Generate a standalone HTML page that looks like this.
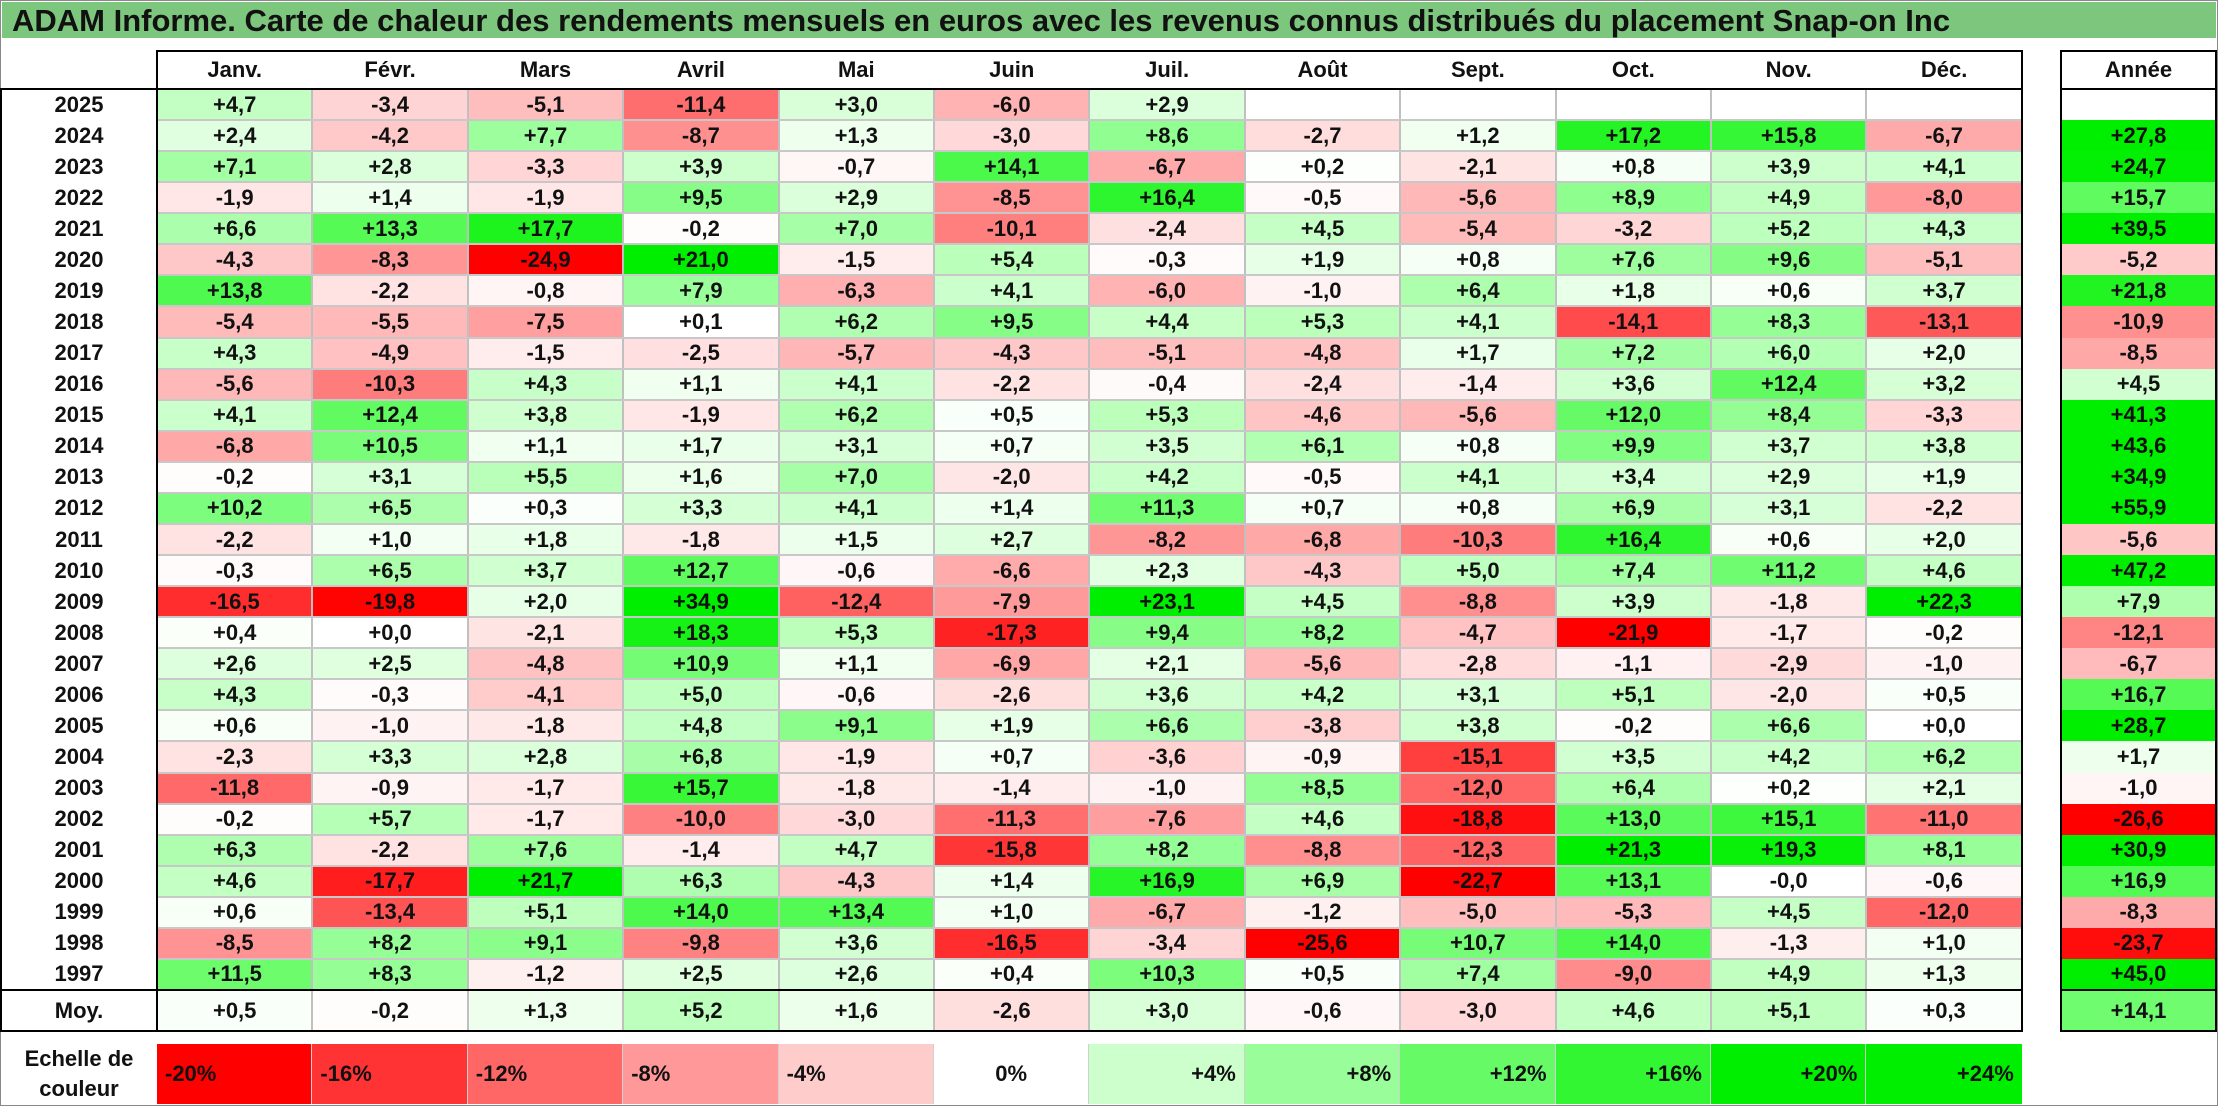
<!DOCTYPE html>
<html><head><meta charset="utf-8">
<style>
html,body{margin:0;padding:0;background:#fff;}
#root{position:relative;width:2218px;height:1106px;overflow:hidden;font-family:"Liberation Sans",Arial,sans-serif;font-weight:bold;color:#111;}
.c{position:absolute;box-sizing:border-box;display:flex;align-items:center;justify-content:center;font-size:22px;}
.ln{position:absolute;}
</style></head><body>
<div id="root">
<div style="position:absolute;left:0;top:0;width:2216px;height:1104px;border:1px solid #888;"></div>
<div style="position:absolute;left:2px;top:2px;width:2214px;height:36px;background:#7dc67d;font-size:31px;line-height:37px;padding-left:10px;box-sizing:border-box;white-space:nowrap;">ADAM Informe. Carte de chaleur des rendements mensuels en euros avec les revenus connus distribués du placement Snap-on Inc</div>
</div>
<script>
const months=["Janv.","Févr.","Mars","Avril","Mai","Juin","Juil.","Août","Sept.","Oct.","Nov.","Déc."];
const years=[2025,2024,2023,2022,2021,2020,2019,2018,2017,2016,2015,2014,2013,2012,2011,2010,2009,2008,2007,2006,2005,2004,2003,2002,2001,2000,1999,1998,1997];
const monthly=[
[4.7,-3.4,-5.1,-11.4,3.0,-6.0,2.9,null,null,null,null,null],
[2.4,-4.2,7.7,-8.7,1.3,-3.0,8.6,-2.7,1.2,17.2,15.8,-6.7],
[7.1,2.8,-3.3,3.9,-0.7,14.1,-6.7,0.2,-2.1,0.8,3.9,4.1],
[-1.9,1.4,-1.9,9.5,2.9,-8.5,16.4,-0.5,-5.6,8.9,4.9,-8.0],
[6.6,13.3,17.7,-0.2,7.0,-10.1,-2.4,4.5,-5.4,-3.2,5.2,4.3],
[-4.3,-8.3,-24.9,21.0,-1.5,5.4,-0.3,1.9,0.8,7.6,9.6,-5.1],
[13.8,-2.2,-0.8,7.9,-6.3,4.1,-6.0,-1.0,6.4,1.8,0.6,3.7],
[-5.4,-5.5,-7.5,0.1,6.2,9.5,4.4,5.3,4.1,-14.1,8.3,-13.1],
[4.3,-4.9,-1.5,-2.5,-5.7,-4.3,-5.1,-4.8,1.7,7.2,6.0,2.0],
[-5.6,-10.3,4.3,1.1,4.1,-2.2,-0.4,-2.4,-1.4,3.6,12.4,3.2],
[4.1,12.4,3.8,-1.9,6.2,0.5,5.3,-4.6,-5.6,12.0,8.4,-3.3],
[-6.8,10.5,1.1,1.7,3.1,0.7,3.5,6.1,0.8,9.9,3.7,3.8],
[-0.2,3.1,5.5,1.6,7.0,-2.0,4.2,-0.5,4.1,3.4,2.9,1.9],
[10.2,6.5,0.3,3.3,4.1,1.4,11.3,0.7,0.8,6.9,3.1,-2.2],
[-2.2,1.0,1.8,-1.8,1.5,2.7,-8.2,-6.8,-10.3,16.4,0.6,2.0],
[-0.3,6.5,3.7,12.7,-0.6,-6.6,2.3,-4.3,5.0,7.4,11.2,4.6],
[-16.5,-19.8,2.0,34.9,-12.4,-7.9,23.1,4.5,-8.8,3.9,-1.8,22.3],
[0.4,0.0,-2.1,18.3,5.3,-17.3,9.4,8.2,-4.7,-21.9,-1.7,-0.2],
[2.6,2.5,-4.8,10.9,1.1,-6.9,2.1,-5.6,-2.8,-1.1,-2.9,-1.0],
[4.3,-0.3,-4.1,5.0,-0.6,-2.6,3.6,4.2,3.1,5.1,-2.0,0.5],
[0.6,-1.0,-1.8,4.8,9.1,1.9,6.6,-3.8,3.8,-0.2,6.6,0.0],
[-2.3,3.3,2.8,6.8,-1.9,0.7,-3.6,-0.9,-15.1,3.5,4.2,6.2],
[-11.8,-0.9,-1.7,15.7,-1.8,-1.4,-1.0,8.5,-12.0,6.4,0.2,2.1],
[-0.2,5.7,-1.7,-10.0,-3.0,-11.3,-7.6,4.6,-18.8,13.0,15.1,-11.0],
[6.3,-2.2,7.6,-1.4,4.7,-15.8,8.2,-8.8,-12.3,21.3,19.3,8.1],
[4.6,-17.7,21.7,6.3,-4.3,1.4,16.9,6.9,-22.7,13.1,-0.0,-0.6],
[0.6,-13.4,5.1,14.0,13.4,1.0,-6.7,-1.2,-5.0,-5.3,4.5,-12.0],
[-8.5,8.2,9.1,-9.8,3.6,-16.5,-3.4,-25.6,10.7,14.0,-1.3,1.0],
[11.5,8.3,-1.2,2.5,2.6,0.4,10.3,0.5,7.4,-9.0,4.9,1.3]];
const annual=[null,27.8,24.7,15.7,39.5,-5.2,21.8,-10.9,-8.5,4.5,41.3,43.6,34.9,55.9,-5.6,47.2,7.9,-12.1,-6.7,16.7,28.7,1.7,-1.0,-26.6,30.9,16.9,-8.3,-23.7,45.0];
const averages=[0.5,-0.2,1.3,5.2,1.6,-2.6,3.0,-0.6,-3.0,4.6,5.1,0.3];
const averageYear=14.1;
const scaleSteps=[-20,-16,-12,-8,-4,0,4,8,12,16,20,24];

const root=document.getElementById('root');
const X0=157,CW=155.4,Y0=89,RH=31.07,AX=2061,AW=155;
function colX(i){return X0+i*CW;}
function rowY(r){return Y0+r*RH;}
function color(v,range){
  if(v===null)return '#fff';
  const t=Math.min(Math.abs(v)/range,1);
  if(v<0){const g=Math.round(255*(1-t));return `rgb(255,${g},${g})`;}
  const k=Math.round(255*(1-t));return `rgb(${k},${Math.round(255-17*t*t*t)},${k})`;
}
function fmt(v){if(v===null)return '';const neg=v<0||Object.is(v,-0);return (neg?'-':'+')+Math.abs(v).toFixed(1).replace('.',',');}
function cell(x,y,w,h,bg,txt){
  const d=document.createElement('div');d.className='c';
  d.style.left=x+'px';d.style.top=y+'px';d.style.width=w+'px';d.style.height=h+'px';
  d.style.background=bg;d.textContent=txt;root.appendChild(d);return d;
}
function line(x,y,w,h,c){
  const d=document.createElement('div');d.className='ln';
  d.style.left=x+'px';d.style.top=y+'px';d.style.width=w+'px';d.style.height=h+'px';d.style.background=c;
  
  
  root.appendChild(d);
}
months.forEach((m,i)=>{
  const d=cell(colX(i),51,CW,38,'#fff',m);
  
  
});
{const d=cell(AX,51,AW,38,'#fff','Année');

}
years.forEach((y,r)=>{
  const l=cell(1,rowY(r),X0-1,RH,'#fff',String(y));
  
  
  monthly[r].forEach((v,i)=>{
    const d=cell(colX(i),rowY(r),CW,RH,color(v,20),fmt(v));
    
    
  });
  const a=cell(AX,rowY(r),AW,RH,color(annual[r],25),fmt(annual[r]));
  
  
});
const bodyBottom=rowY(years.length);
const MY=bodyBottom+1,MH=1031-MY;
{const l=cell(1,MY,X0-1,MH,'#fff','Moy.');

}
averages.forEach((v,i)=>{
  const d=cell(colX(i),MY,CW,MH,color(v,20),fmt(v));
  
  
});
{const a=cell(AX,MY,AW,MH,color(averageYear,25),fmt(averageYear));

}
for(let i=1;i<12;i++)line(colX(i)-1,Y0,2,1031-Y0,'#c0c0c0');
for(let r=1;r<years.length;r++)line(X0,rowY(r)-1,colX(12)-X0,2,'#c8c8c8');
line(X0-1,50,colX(12)-X0+2,2,'#000');
line(X0-1,50,2,1032-50,'#000');
line(colX(12)-1,50,2,1032-50,'#000');
line(0,Y0-1,colX(12)+1,2,'#000');
line(0,Y0-1,2,1032-Y0,'#000');
line(0,bodyBottom-1,colX(12)+1,2,'#000');
line(0,1030,colX(12)+1,2,'#000');
line(AX-1,50,AW+2,2,'#000');
line(AX-1,Y0-1,AW+2,2,'#000');
line(AX-1,50,2,982,'#000');
line(AX+AW-1,50,2,982,'#000');
line(AX-1,bodyBottom-1,AW+2,2,'#000');
line(AX-1,1030,AW+2,2,'#000');
{const l=cell(1,1044,X0-1,60,'#fff','');
l.innerHTML='Echelle de<br>couleur';l.style.textAlign='center';l.style.lineHeight='30px';

}
scaleSteps.forEach((v,i)=>{
  const d=cell(colX(i),1044,CW,60,color(v,20),(v>0?'+':'')+v+'%');
  d.style.justifyContent=v<0?'flex-start':(v>0?'flex-end':'center');
  d.style.padding='0 8px';
  d.style.borderRight=i<11?'1px solid #d0d0d0':'none';
  
  
});
</script>
</body></html>
